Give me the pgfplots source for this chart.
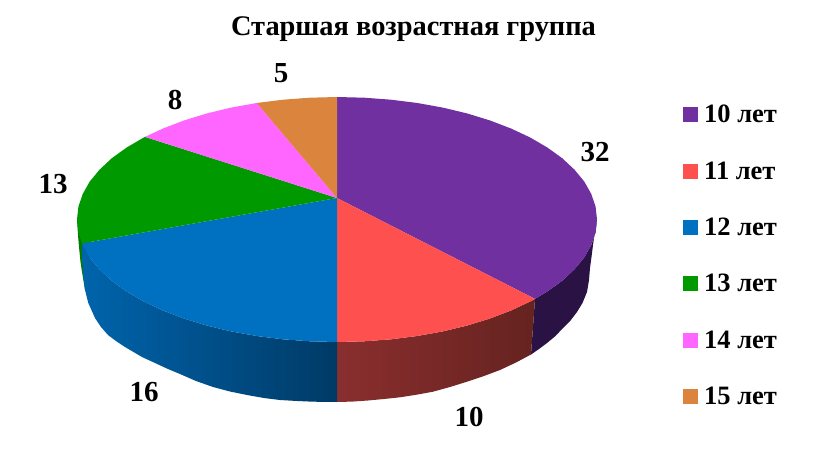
\documentclass[border=0pt]{standalone}
\usepackage{fontspec}
\setmainfont{Liberation Serif}
\usepackage{pgfplots}
\pgfplotsset{compat=1.18}
\definecolor{cPurple}{HTML}{7030A0}
\definecolor{cRed}{HTML}{FF5050}
\definecolor{cBlue}{HTML}{0070C0}
\definecolor{cGreen}{HTML}{009900}
\definecolor{cPink}{HTML}{FF66FF}
\definecolor{cOrange}{HTML}{DA843E}
\definecolor{sPurple}{HTML}{2A1245}
\definecolor{sGreen}{HTML}{007A00}
\definecolor{sRedA}{RGB}{138,46,46}
\definecolor{sRedB}{RGB}{101,35,32}
\definecolor{sBlueA}{RGB}{0,100,172}
\definecolor{sBlueB}{RGB}{0,80,140}
\definecolor{sBlueC}{RGB}{0,58,102}
\begin{document}
\begin{tikzpicture}
\useasboundingbox (0,0) rectangle (819pt,474pt);
\begin{axis}[
    at={(0,0)}, anchor=south west,
    scale only axis,
    width=819pt, height=474pt,
    xmin=0, xmax=819, ymin=0, ymax=474,
    y dir=reverse,
    hide axis,
    clip=false,
    legend cell align=left,
    legend image code/.code={\fill[#1] (0pt,-7.5pt) rectangle (15pt,7.5pt);},
    legend style={draw=none, fill=none, at={(axis cs:683,103)}, anchor=north west,
        font=\fontsize{26.5}{26.5}\selectfont\bfseries,
        row sep=33.3pt, inner sep=0pt,
        nodes={inner xsep=6pt, inner ysep=2pt}},
    every axis plot/.append style={draw=none}
]
% side walls, pixels
\addplot[fill=sGreen, forget plot] coordinates {(77,219.5) (78,235) (79,247) (80.5,262) (82,272) (85,290) (90,290) (90,240)} --cycle;
\addplot[fill=sPurple, forget plot] coordinates {(597,219.5) (595.6,232.3) (591.3,245) (584.3,257.4) (574.5,269.3) (562.2,280.8) (547.3,291.5) (535,298.9)
    (531,354.5) (539,349) (547,343) (555.5,336) (563,328) (570.5,320.5) (577,312) (582.5,303) (587,292) (589,280) (590,268) (591.5,257) (593,245) (594.5,235) (596,225)} --cycle;
\addplot[left color=sRedA, middle color=sRedB, right color=sRedB, forget plot]
    coordinates {(535,298.9) (530.2,301.5) (511,310.5) (489.8,318.6) (467,325.6) (442.8,331.4) (417.3,336) (391.1,339.3) (364.2,341.3) (337,342)
    (337,402) (352,401.6) (368,400.5) (384,399) (400,397.3) (416,394.8) (433,391.7) (450,387) (467,381.7) (484,376) (500,370) (516,362.5) (531,354.5)} --cycle;
\addplot[left color=sBlueA, middle color=sBlueB, right color=sBlueC, forget plot]
    coordinates {(337,342) (309.8,341.3) (282.9,339.3) (256.7,336) (231.2,331.4) (207,325.6) (184.2,318.6) (163,310.5) (143.8,301.5) (126.7,291.5)
    (111.8,280.8) (99.5,269.3) (89.7,257.4) (82.7,245) (82,243.4)
    (82.5,255) (83,272) (85,290) (88.3,303) (95,318) (101,327) (108,335) (116,341) (125,347) (142,357) (155,363) (168,369) (180,374) (196,381) (213,387)
    (230,391.5) (247,395) (264,398) (280,400) (297,401) (313,401.7) (337,402)} --cycle;
% top face
\addplot[fill=cPurple] coordinates {(337,198) (337,97) (364.2,97.7) (391.1,99.7) (417.3,103) (442.8,107.6) (467,113.4) (489.8,120.4) (511,128.5)
    (530.2,137.5) (547.3,147.5) (562.2,158.2) (574.5,169.7) (584.3,181.6) (591.3,194) (595.6,206.7) (597,219.5)
    (595.6,232.3) (591.3,245) (584.3,257.4) (574.5,269.3) (562.2,280.8) (547.3,291.5) (535,298.9)} --cycle;
\addlegendentry{10 лет}
\addplot[fill=cRed] coordinates {(337,198) (535,298.9) (530.2,301.5) (511,310.5) (489.8,318.6) (467,325.6) (442.8,331.4) (417.3,336) (391.1,339.3) (364.2,341.3) (337,342)} --cycle;
\addlegendentry{11 лет}
\addplot[fill=cBlue] coordinates {(337,198) (337,342) (309.8,341.3) (282.9,339.3) (256.7,336) (231.2,331.4) (207,325.6) (184.2,318.6) (163,310.5) (143.8,301.5)
    (126.7,291.5) (111.8,280.8) (99.5,269.3) (89.7,257.4) (82.7,245) (82,243.4)} --cycle;
\addlegendentry{12 лет}
\addplot[fill=cGreen] coordinates {(337,198) (82,243.4) (78.4,232.3) (77,219.5) (78.4,206.7) (82.7,194) (89.7,181.6) (99.5,169.7) (111.8,158.2) (126.7,147.5) (143.8,137.5) (145,136.9)} --cycle;
\addlegendentry{13 лет}
\addplot[fill=cPink] coordinates {(337,198) (145,136.9) (163,128.5) (184.2,120.4) (207,113.4) (231.2,107.6) (256.7,103)} --cycle;
\addlegendentry{14 лет}
\addplot[fill=cOrange] coordinates {(337,198) (256.7,103) (282.9,99.7) (309.8,97.7) (337,97)} --cycle;
\addlegendentry{15 лет}
% value labels
\begin{scope}[every node/.style={font=\fontsize{29}{29}\selectfont\bfseries, inner sep=0pt}]
\node at (axis cs:595,152) {32};
\node at (axis cs:469,417) {10};
\node at (axis cs:144,392) {16};
\node at (axis cs:53,184) {13};
\node at (axis cs:175,100) {8};
\node at (axis cs:281,73) {5};
\end{scope}
\node[font=\fontsize{28.4}{28.4}\selectfont\bfseries, inner sep=0pt] at (axis cs:413.5,29) {Старшая возрастная группа};
\end{axis}
\end{tikzpicture}
\end{document}
